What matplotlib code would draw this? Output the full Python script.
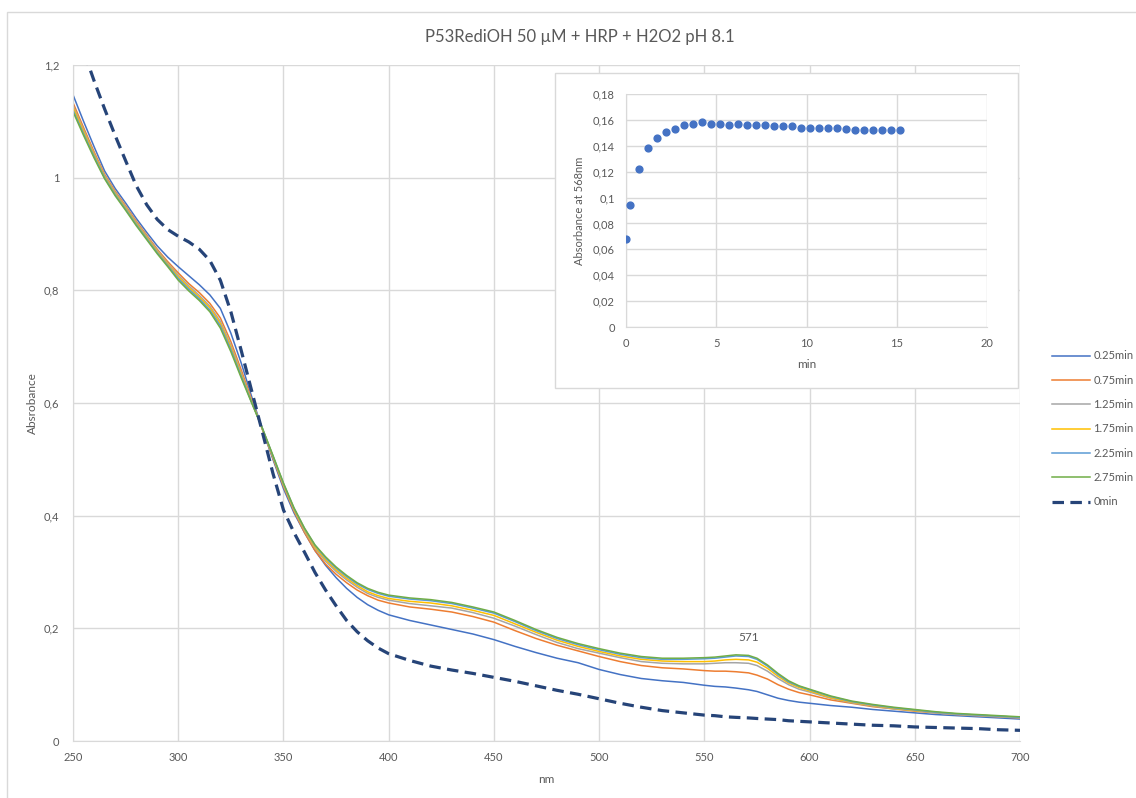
import matplotlib
matplotlib.use("Agg")
import matplotlib.pyplot as plt
from matplotlib.patches import Rectangle
from matplotlib.ticker import FuncFormatter, MultipleLocator

plt.rcParams['font.family'] = ['Lato', 'DejaVu Sans']

# wavelength grid (nm)
wl = [250, 255, 260, 265, 270, 275, 280, 285, 290, 295, 300, 305, 310, 315, 320, 325,
      330, 335, 340, 345, 350, 355, 360, 365, 370, 375, 380, 385, 390, 395, 400,
      410, 420, 430, 440, 450, 460, 470, 480, 490, 500, 510, 520, 530, 540, 550,
      555, 560, 565, 571, 575, 580, 585, 590, 595, 600, 610, 620, 630, 640, 650,
      660, 670, 680, 690, 700]

abs_025 = [1.147, 1.100, 1.055, 1.012, 0.981, 0.955, 0.928, 0.903, 0.879, 0.859, 0.842,
           0.826, 0.810, 0.792, 0.768, 0.724, 0.670, 0.610, 0.553, 0.500, 0.448, 0.405,
           0.370, 0.338, 0.312, 0.290, 0.271, 0.255, 0.242, 0.232, 0.224,
           0.214, 0.206, 0.198, 0.190, 0.180, 0.168, 0.157, 0.147, 0.139, 0.127, 0.118,
           0.111, 0.107, 0.104, 0.099, 0.097, 0.096, 0.094, 0.091, 0.088, 0.082, 0.076,
           0.072, 0.069, 0.067, 0.063, 0.060, 0.056, 0.053, 0.050, 0.047, 0.045, 0.043,
           0.041, 0.039]
abs_075 = [1.133, 1.089, 1.046, 1.006, 0.976, 0.950, 0.923, 0.898, 0.873, 0.851, 0.831,
           0.812, 0.796, 0.777, 0.751, 0.709, 0.658, 0.605, 0.553, 0.502, 0.452, 0.408,
           0.370, 0.338, 0.314, 0.296, 0.281, 0.268, 0.258, 0.250, 0.245,
           0.238, 0.234, 0.229, 0.221, 0.211, 0.196, 0.182, 0.170, 0.160, 0.150, 0.141,
           0.134, 0.130, 0.128, 0.125, 0.124, 0.124, 0.123, 0.121, 0.117, 0.110, 0.100,
           0.092, 0.086, 0.082, 0.073, 0.067, 0.061, 0.057, 0.053, 0.050, 0.047, 0.045,
           0.043, 0.041]
abs_125 = [1.128, 1.085, 1.043, 1.004, 0.974, 0.948, 0.921, 0.896, 0.871, 0.848, 0.827,
           0.808, 0.791, 0.772, 0.745, 0.703, 0.653, 0.602, 0.554, 0.504, 0.454, 0.410,
           0.373, 0.342, 0.319, 0.301, 0.286, 0.273, 0.262, 0.255, 0.250,
           0.244, 0.240, 0.236, 0.228, 0.218, 0.204, 0.189, 0.175, 0.164, 0.156, 0.148,
           0.141, 0.138, 0.137, 0.137, 0.138, 0.139, 0.139, 0.138, 0.134, 0.124, 0.111,
           0.100, 0.092, 0.087, 0.076, 0.068, 0.062, 0.057, 0.054, 0.050, 0.047, 0.045,
           0.043, 0.041]
abs_175 = [1.125, 1.082, 1.041, 1.002, 0.972, 0.946, 0.919, 0.894, 0.869, 0.846, 0.824,
           0.805, 0.788, 0.769, 0.741, 0.699, 0.650, 0.601, 0.554, 0.505, 0.455, 0.411,
           0.375, 0.344, 0.322, 0.304, 0.289, 0.276, 0.265, 0.258, 0.253,
           0.248, 0.245, 0.240, 0.232, 0.223, 0.208, 0.193, 0.179, 0.168, 0.159, 0.151,
           0.145, 0.142, 0.141, 0.141, 0.142, 0.144, 0.145, 0.144, 0.140, 0.129, 0.115,
           0.103, 0.095, 0.089, 0.077, 0.069, 0.063, 0.058, 0.054, 0.051, 0.048, 0.046,
           0.044, 0.042]
abs_225 = [1.120, 1.078, 1.038, 1.000, 0.970, 0.944, 0.917, 0.892, 0.867, 0.844, 0.821,
           0.802, 0.785, 0.765, 0.737, 0.695, 0.647, 0.600, 0.555, 0.506, 0.457, 0.413,
           0.377, 0.347, 0.325, 0.307, 0.292, 0.279, 0.269, 0.262, 0.257,
           0.252, 0.249, 0.244, 0.236, 0.227, 0.212, 0.196, 0.182, 0.171, 0.162, 0.154,
           0.148, 0.145, 0.145, 0.146, 0.147, 0.149, 0.151, 0.150, 0.145, 0.133, 0.118,
           0.105, 0.097, 0.091, 0.079, 0.070, 0.064, 0.059, 0.055, 0.051, 0.048, 0.046,
           0.044, 0.042]
abs_275 = [1.117, 1.075, 1.035, 0.998, 0.968, 0.942, 0.915, 0.890, 0.865, 0.842, 0.818,
           0.799, 0.782, 0.762, 0.733, 0.691, 0.644, 0.599, 0.555, 0.507, 0.458, 0.414,
           0.378, 0.348, 0.327, 0.309, 0.294, 0.281, 0.271, 0.264, 0.259,
           0.254, 0.251, 0.246, 0.238, 0.229, 0.214, 0.198, 0.184, 0.173, 0.164, 0.156,
           0.150, 0.147, 0.147, 0.148, 0.149, 0.151, 0.153, 0.152, 0.147, 0.135, 0.120,
           0.107, 0.098, 0.092, 0.080, 0.071, 0.065, 0.060, 0.056, 0.052, 0.049, 0.047,
           0.045, 0.043]
abs_0 = [1.280, 1.225, 1.172, 1.122, 1.075, 1.030, 0.986, 0.952, 0.926, 0.908, 0.896,
         0.886, 0.873, 0.853, 0.818, 0.762, 0.692, 0.620, 0.548, 0.475, 0.410, 0.370,
         0.335, 0.299, 0.268, 0.240, 0.214, 0.194, 0.178, 0.165, 0.155,
         0.143, 0.133, 0.126, 0.120, 0.113, 0.106, 0.098, 0.090, 0.083, 0.075, 0.067,
         0.060, 0.054, 0.050, 0.046, 0.045, 0.043, 0.042, 0.041, 0.040, 0.039, 0.038,
         0.036, 0.035, 0.034, 0.032, 0.030, 0.028, 0.027, 0.025, 0.024, 0.023, 0.022,
         0.020, 0.019]

series_labels = ['0.25min', '0.75min', '1.25min', '1.75min', '2.25min', '2.75min', '0min']
series_colors = ['#4472C4', '#ED7D31', '#A5A5A5', '#FFC000', '#5B9BD5', '#70AD47', '#264478']

peak_wl = 571

# kinetics at 568 nm (inset)
t_min = [0, 0.2, 0.7, 1.2, 1.7, 2.2, 2.7, 3.2, 3.7, 4.2, 4.7, 5.2, 5.7, 6.2, 6.7, 7.2,
         7.7, 8.2, 8.7, 9.2, 9.7, 10.2, 10.7, 11.2, 11.7, 12.2, 12.7, 13.2, 13.7, 14.2,
         14.7, 15.2]
abs_568 = [0.068, 0.094, 0.122, 0.138, 0.146, 0.151, 0.153, 0.156, 0.157, 0.158, 0.157,
           0.157, 0.156, 0.157, 0.156, 0.156, 0.156, 0.155, 0.155, 0.155, 0.154, 0.154,
           0.154, 0.154, 0.154, 0.153, 0.152, 0.152, 0.152, 0.152, 0.152, 0.152]

grid_c = '#D9D9D9'
text_c = '#595959'
comma = FuncFormatter(lambda v, p: f"{v:g}".replace('.', ','))

fig = plt.figure(figsize=(11.36, 7.98), dpi=100)

# chart area frame
fig.patches.append(Rectangle((7 / 1136, -0.05), 1.1, 1 - 12 / 798 + 0.05,
                             transform=fig.transFigure, fill=False,
                             edgecolor=grid_c, lw=1.0))

ax = fig.add_axes([0.0643, 0.0714, 0.8336, 0.8471])
spectra = [abs_025, abs_075, abs_125, abs_175, abs_225, abs_275]
for y, lab, col in zip(spectra, series_labels[:6], series_colors[:6]):
    ax.plot(wl, y, color=col, lw=1.1, label=lab)
ax.plot(wl, abs_0, color=series_colors[6], lw=2.3, dashes=(3.6, 2.0),
        label=series_labels[6])

i_pk = wl.index(peak_wl)
ax.annotate(str(peak_wl), (peak_wl, abs_275[i_pk]), xytext=(0, 9),
            textcoords='offset points', ha='center', va='bottom',
            fontsize=8.5, color=text_c)

ax.set_xlim(250, 700)
ax.set_ylim(0, 1.2)
ax.xaxis.set_major_locator(MultipleLocator(50))
ax.yaxis.set_major_locator(MultipleLocator(0.2))
ax.yaxis.set_major_formatter(comma)
ax.grid(True, color=grid_c, lw=1.0)
ax.set_axisbelow(True)
for s in ['top', 'right']:
    ax.spines[s].set_visible(False)
for s in ['left', 'bottom']:
    ax.spines[s].set_color(grid_c)
ax.tick_params(length=0, labelsize=8, colors=text_c, pad=10)
ax.tick_params(axis='x', pad=8)
ax.set_xlabel('nm', fontsize=8.5, color=text_c, labelpad=8)
ax.set_ylabel('Absrobance', fontsize=8.5, color=text_c, labelpad=4)

fig.text(0.51, 1 - 37 / 798, 'P53RediOH 50 µM + HRP + H2O2 pH 8.1',
         ha='center', va='center', fontsize=12, color=text_c)

handles, labels = ax.get_legend_handles_labels()
fig.legend(handles, labels, loc='upper left',
           bbox_to_anchor=(1048 / 1136, 1 - 346 / 798), frameon=False,
           fontsize=8, labelcolor=text_c, handlelength=3.4, handletextpad=0.3,
           labelspacing=1.2, borderaxespad=0)

# inset: kinetics panel
fig.patches.append(Rectangle((555 / 1136, 1 - 388 / 798), 463 / 1136, 315 / 798,
                             transform=fig.transFigure, facecolor='white',
                             edgecolor=grid_c, lw=1.0, zorder=3))
ins = fig.add_axes([626 / 1136, 1 - 327 / 798, 361 / 1136, 233 / 798])
ins.set_zorder(4)
ins.scatter(t_min, abs_568, s=24, color='#4472C4', zorder=3)
ins.set_xlim(0, 20)
ins.set_ylim(0, 0.18)
ins.xaxis.set_major_locator(MultipleLocator(5))
ins.yaxis.set_major_locator(MultipleLocator(0.02))
ins.yaxis.set_major_formatter(comma)
ins.grid(True, color=grid_c, lw=1.0)
ins.set_axisbelow(True)
for s in ['top', 'right']:
    ins.spines[s].set_visible(False)
for s in ['left', 'bottom']:
    ins.spines[s].set_color(grid_c)
ins.tick_params(length=0, labelsize=8, colors=text_c, pad=8)
ins.set_xlabel('min', fontsize=8.5, color=text_c, labelpad=7)
ins.set_ylabel('Absorbance at 568nm', fontsize=8, color=text_c, labelpad=6)

fig.savefig('out.png', dpi=100)
